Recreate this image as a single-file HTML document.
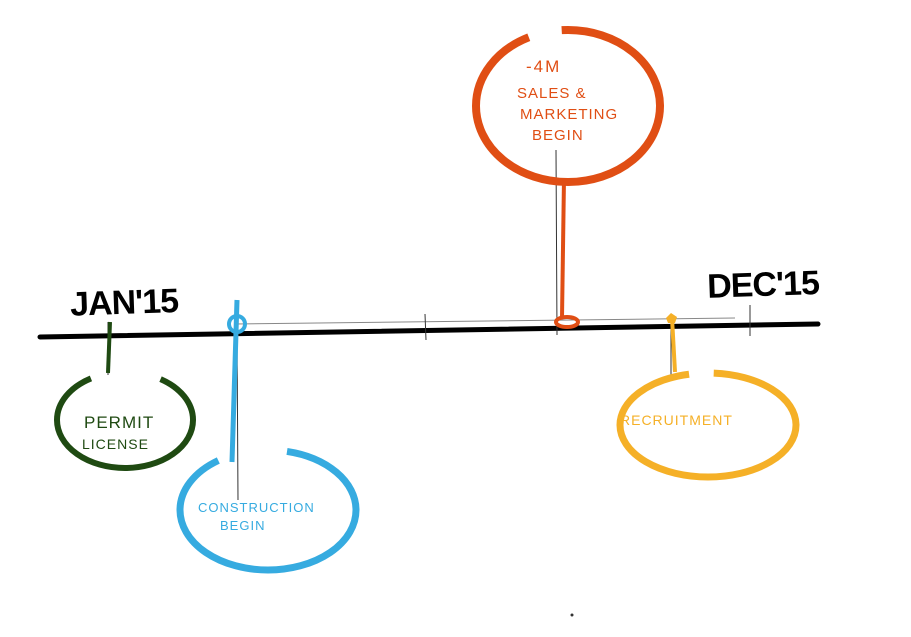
<!DOCTYPE html>
<html><head><meta charset="utf-8"><style>html,body{margin:0;padding:0;background:#fff}svg{display:block}</style></head>
<body>
<svg width="911" height="637" viewBox="0 0 911 637" xmlns="http://www.w3.org/2000/svg" font-family="Liberation Sans, sans-serif">
<rect width="911" height="637" fill="#fff"/>
<!-- thin guide line -->
<path d="M235 324 L735 318" stroke="#888" stroke-width="1" fill="none"/>
<!-- main line -->
<path d="M40 337 L818 324" stroke="#000" stroke-width="5" stroke-linecap="round" fill="none"/>
<!-- ticks -->
<path d="M425 314 L426 340 M750 305 L750 336 M556 150 L557 335 M108 322 L108 375 M237 330 L238 500 M671 318 L671 375" stroke="#333" stroke-width="1" fill="none"/>
<!-- labels -->
<text x="70" y="314" font-size="34" font-weight="bold" letter-spacing="-1" fill="#000" transform="rotate(-2 120 300)">JAN'15</text>
<text x="707" y="296" font-size="34" font-weight="bold" letter-spacing="-1" fill="#000" transform="rotate(-2 760 280)">DEC'15</text>

<!-- green -->
<path d="M110 322 L108 373" stroke="#1f4a12" stroke-width="4" fill="none"/>
<ellipse cx="125" cy="420" rx="68" ry="48" fill="none" stroke="#1f4a12" stroke-width="6" pathLength="360" stroke-dasharray="236 70 54 0"/>
<text x="84" y="428" font-size="17" fill="#1f4a12" letter-spacing="1">PERMIT</text>
<text x="82" y="449" font-size="14" fill="#1f4a12" letter-spacing="1">LICENSE</text>

<!-- blue -->
<path d="M237 300 L232 462" stroke="#36abe0" stroke-width="5" fill="none"/>
<circle cx="237" cy="324" r="8" fill="none" stroke="#36abe0" stroke-width="4"/>
<ellipse cx="268" cy="510" rx="88" ry="60" fill="none" stroke="#36abe0" stroke-width="7" pathLength="360" stroke-dasharray="231 54 75 0"/>
<text x="198" y="512" font-size="13" fill="#36abe0" letter-spacing="1">CONSTRUCTION</text>
<text x="220" y="530" font-size="13" fill="#36abe0" letter-spacing="1">BEGIN</text>

<!-- orange -->
<path d="M564 178 L562 318" stroke="#e04e14" stroke-width="4" fill="none"/>
<ellipse cx="567" cy="322" rx="11" ry="5" fill="none" stroke="#e04e14" stroke-width="4"/>
<ellipse cx="568" cy="106" rx="92" ry="76" fill="none" stroke="#e04e14" stroke-width="8" pathLength="360" stroke-dasharray="243 23 94 0"/>
<text x="526" y="72" font-size="17" fill="#e04e14" letter-spacing="2">-4M</text>
<text x="517" y="98" font-size="15" fill="#e04e14" letter-spacing="1">SALES &amp;</text>
<text x="520" y="119" font-size="15" fill="#e04e14" letter-spacing="1">MARKETING</text>
<text x="532" y="140" font-size="15" fill="#e04e14" letter-spacing="1">BEGIN</text>

<!-- yellow -->
<path d="M672 318 L675 372" stroke="#f5b027" stroke-width="4" fill="none"/>
<path d="M666 318 L671 313 L677 317 L675 323 L668 323 Z" fill="#f5b027"/>
<ellipse cx="708" cy="425" rx="88" ry="52" fill="none" stroke="#f5b027" stroke-width="7" pathLength="360" stroke-dasharray="255 20 85 0"/>
<text x="620" y="425" font-size="14" fill="#f5b027" letter-spacing="1">RECRUITMENT</text>

<circle cx="572" cy="615" r="1.5" fill="#333"/>
</svg>
</body></html>
